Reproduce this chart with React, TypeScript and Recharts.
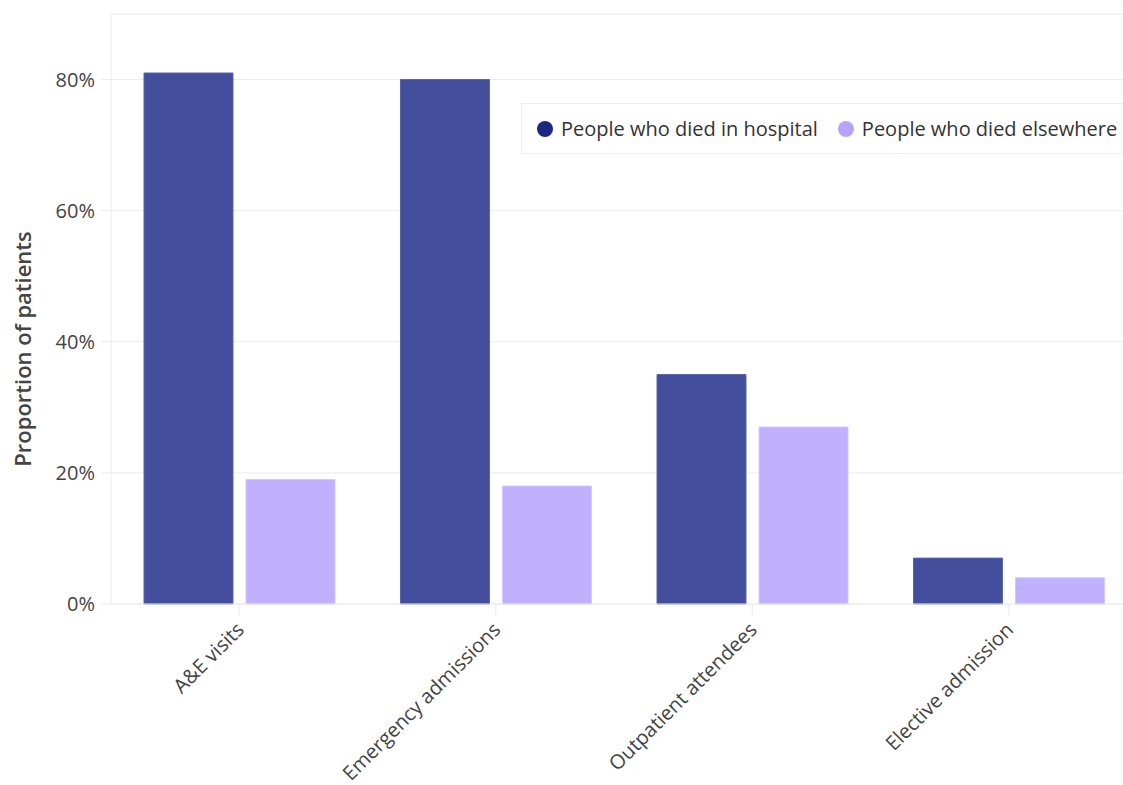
import React from "react";
import {
    BarChart, Bar, XAxis, YAxis, CartesianGrid,
} from "recharts";

const CATEGORIES = ["A&E visits", "Emergency admissions", "Outpatient attendees", "Elective admission"];
const DIED_IN_HOSPITAL = [81, 80, 35, 7];
const DIED_ELSEWHERE = [19, 18, 27, 4];
const Y_TICKS = [0, 20, 40, 60, 80];

const SERIES = [
    { key: "hospital", name: "People who died in hospital", fill: "#434f9d", stroke: "#5a64ad", dot: "#1b2785" },
    { key: "elsewhere", name: "People who died elsewhere", fill: "#c0b0fe", stroke: "#d3c8ff", dot: "#b6a3fc" },
];

const FONT = "'Open Sans', sans-serif";
const GRID = "#ebebeb";

const data = CATEGORIES.map((category, i) => ({
    category,
    hospital: DIED_IN_HOSPITAL[i],
    elsewhere: DIED_ELSEWHERE[i],
}));

// legend sits on top of the plot, not in the chart flow
function LegendBox() {
    return (
        <div
            style={{
                position: "absolute",
                top: 103,
                left: 521,
                width: 640,
                display: "flex",
                alignItems: "center",
                height: 49,
                background: "#fff",
                border: "1px solid #eeeeee",
                paddingLeft: 15,
                fontFamily: FONT,
                fontSize: 20,
                color: "#333",
                whiteSpace: "nowrap",
            }}
        >
            {SERIES.map((s) => (
                <span key={s.key} style={{ display: "inline-flex", alignItems: "center", marginRight: 20 }}>
                    <span
                        style={{
                            width: 16, height: 16, borderRadius: "50%",
                            background: s.dot, display: "inline-block", marginRight: 8,
                        }}
                    />
                    {s.name}
                </span>
            ))}
        </div>
    );
}

function XTick(props: any) {
    const { x, y, payload } = props;
    return (
        <text
            x={x + 6}
            y={y + 14}
            transform={`rotate(-45, ${x + 6}, ${y + 14})`}
            textAnchor="end"
            fill="#444"
            fontFamily={FONT}
            fontSize={20}
        >
            {payload.value}
        </text>
    );
}

export default function App() {
    return (
        <div style={{ position: "absolute", left: 0, top: 0, width: 1123, height: 785, overflow: "hidden", background: "#fff" }}>
            <BarChart
                width={1137}
                height={785}
                data={data}
                barSize={89}
                barGap={13}
                margin={{ top: 14, right: 0, left: 0, bottom: 0 }}
            >
                <CartesianGrid stroke={GRID} vertical={false} />
                <XAxis
                    dataKey="category"
                    height={181}
                    interval={0}
                    axisLine={{ stroke: GRID }}
                    tickLine={{ stroke: GRID }}
                    tickSize={11}
                    tick={<XTick />}
                />
                <YAxis
                    width={111}
                    domain={[0, 90]}
                    ticks={Y_TICKS}
                    tickFormatter={(v) => `${v}%`}
                    axisLine={{ stroke: GRID }}
                    tickLine={{ stroke: GRID }}
                    tickSize={10}
                    tickMargin={6}
                    tick={{ fill: "#444", fontSize: 20, fontFamily: FONT }}
                    label={{
                        content: () => (
                            <text
                                transform="translate(31, 349) rotate(-90)"
                                textAnchor="middle"
                                fill="#444"
                                fontFamily={FONT}
                                fontWeight={600}
                                fontSize={22}
                            >
                                Proportion of patients
                            </text>
                        ),
                    }}
                />
                {SERIES.map((s) => (
                    <Bar
                        key={s.key}
                        dataKey={s.key}
                        name={s.name}
                        fill={s.fill}
                        stroke={s.stroke}
                        strokeWidth={1}
                        isAnimationActive={false}
                    />
                ))}
            </BarChart>
            <LegendBox />
        </div>
    );
}
